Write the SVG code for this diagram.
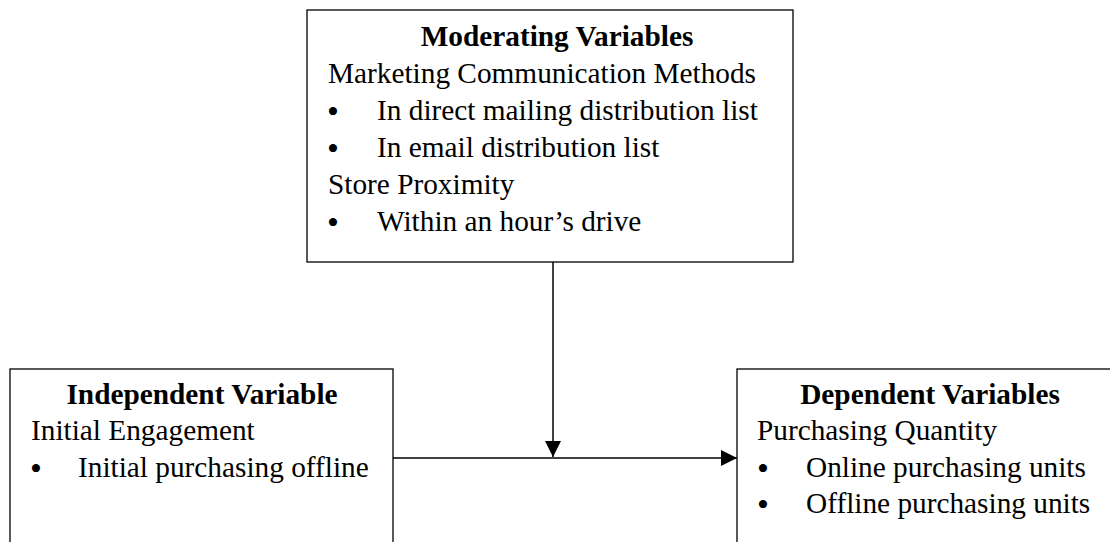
<svg xmlns="http://www.w3.org/2000/svg" width="1110" height="542" viewBox="0 0 1110 542">
<style>
.box{fill:#fff;stroke:#000;stroke-width:1.3}
text{font-family:"Liberation Serif","Times New Roman",serif;font-size:29.3px;fill:#000}
.t{font-weight:bold;text-anchor:middle}
.b{font-size:34px}
.ln{stroke:#000;stroke-width:1.5;fill:none}
</style>
<defs>
<marker id="ah" markerWidth="16" markerHeight="16" viewBox="0 0 16 16" refX="16" refY="8" orient="auto" markerUnits="userSpaceOnUse">
<path d="M0,0 L16,8 L0,16 Z" fill="#000"/>
</marker>
</defs>
<g id="moderating">
<rect class="box" x="307" y="10" width="486" height="252"/>
<text class="t" x="557" y="46">Moderating Variables</text>
<text x="328" y="83">Marketing Communication Methods</text>
<text class="b" x="327" y="123">•</text><text x="377" y="120">In direct mailing distribution list</text>
<text class="b" x="327" y="160">•</text><text x="377" y="157">In email distribution list</text>
<text x="328" y="194">Store Proximity</text>
<text class="b" x="327" y="234">•</text><text x="377" y="231">Within an hour’s drive</text>
</g>
<g id="independent">
<rect class="box" x="10" y="369" width="383" height="190"/>
<text class="t" x="202" y="404">Independent Variable</text>
<text x="31" y="440">Initial Engagement</text>
<text class="b" x="30" y="480">•</text><text x="78" y="477">Initial purchasing offline</text>
</g>
<g id="dependent">
<rect class="box" x="737" y="369" width="390" height="190"/>
<text class="t" x="930" y="404">Dependent Variables</text>
<text x="757" y="440">Purchasing Quantity</text>
<text class="b" x="757" y="480">•</text><text x="806" y="477">Online purchasing units</text>
<text class="b" x="757" y="516">•</text><text x="806" y="513">Offline purchasing units</text>
</g>
<g id="connectors">
<line class="ln" x1="393" y1="458" x2="737" y2="458" marker-end="url(#ah)"/>
<line class="ln" x1="553" y1="262" x2="553" y2="457" marker-end="url(#ah)"/>
</g>
</svg>
